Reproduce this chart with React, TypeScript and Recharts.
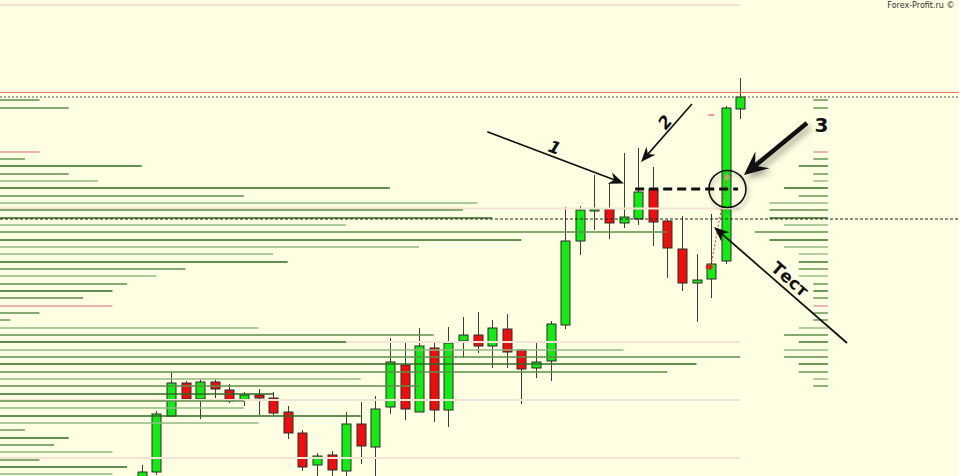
import React from "react";
import { ComposedChart, Bar, XAxis, YAxis, ReferenceLine, ReferenceDot } from "recharts";

const W = 959;
const H = 476;
const BG = "#fefee2";

// bar index axis and price axis limits
const X_MIN = -9.705;
const X_MAX = 55.98;
const P_MIN = 1.28;
const P_MAX = 1.3276;

const opens = [1.2799, 1.2804, 1.2860, 1.2893, 1.2877, 1.2894, 1.2886, 1.2876, 1.2881, 1.2878, 1.2864, 1.2843, 1.2811, 1.2821, 1.2805, 1.2852, 1.2829, 1.2869, 1.2911, 1.2864, 1.2928, 1.2866, 1.2935, 1.2941, 1.2930, 1.2947, 1.2926, 1.2908, 1.2915, 1.2951, 1.3035, 1.3065, 1.3067, 1.3053, 1.3057, 1.3087, 1.3055, 1.3027, 1.2993, 1.2997, 1.3015, 1.3167];
const highs = [1.2811, 1.2865, 1.2904, 1.2895, 1.2897, 1.2897, 1.2892, 1.2884, 1.2887, 1.2884, 1.2870, 1.2846, 1.2823, 1.2825, 1.2864, 1.2874, 1.2880, 1.2938, 1.2935, 1.2948, 1.2935, 1.2949, 1.2959, 1.2964, 1.2956, 1.2962, 1.2927, 1.2933, 1.2955, 1.3069, 1.3070, 1.3101, 1.3093, 1.3123, 1.3128, 1.3109, 1.3056, 1.3060, 1.3022, 1.3062, 1.3170, 1.3198];
const lows = [1.2796, 1.2801, 1.2859, 1.2876, 1.2857, 1.2878, 1.2873, 1.2870, 1.2861, 1.2861, 1.2837, 1.2805, 1.2798, 1.2798, 1.2796, 1.2812, 1.2796, 1.2862, 1.2856, 1.2864, 1.2854, 1.2849, 1.2918, 1.2923, 1.2908, 1.2908, 1.2872, 1.2898, 1.2895, 1.2947, 1.3021, 1.3046, 1.3037, 1.3048, 1.3051, 1.3030, 1.2998, 1.2985, 1.2954, 1.2978, 1.3012, 1.3157];
const closes = [1.2804, 1.2862, 1.2893, 1.2877, 1.2894, 1.2887, 1.2875, 1.2881, 1.2878, 1.2863, 1.2843, 1.2809, 1.2820, 1.2806, 1.2852, 1.2830, 1.2867, 1.2914, 1.2867, 1.2930, 1.2866, 1.2933, 1.2941, 1.2930, 1.2948, 1.2924, 1.2907, 1.2914, 1.2952, 1.3035, 1.3066, 1.3067, 1.3053, 1.3059, 1.3084, 1.3054, 1.3028, 1.2993, 1.2996, 1.3012, 1.3168, 1.3179];

// volume profile levels: left histogram reaches a bar index, right one counts bars back from bar 47
const levels = [1.3176, 1.3168, 1.3124, 1.3117, 1.3110, 1.3102, 1.3095, 1.3088, 1.3080, 1.3073, 1.3066, 1.3058, 1.3051, 1.3044, 1.3036, 1.3029, 1.3022, 1.3014, 1.3007, 1.3000, 1.2992, 1.2985, 1.2978, 1.2970, 1.2963, 1.2956, 1.2948, 1.2941, 1.2934, 1.2926, 1.2919, 1.2912, 1.2904, 1.2897, 1.2890, 1.2882, 1.2875, 1.2868, 1.2860, 1.2853, 1.2846, 1.2838, 1.2831, 1.2824, 1.2816, 1.2809, 1.2802];
const leftReach = [-7, -5, -7, -8, 0, -5, -3, 17, 7, 23, 22, 24, 14, 36, 26, 19, 9, 10, 3, 1, -1, -2, -4, -2, -7, -9, 8, 20, 14, 33, 41, 38, 36, 15, 19, 9, 7, 7, 15, 8, -8, -5, -6, -2, -7, -1, -2];
const rightBars = [1, 1, 1, 1, 2, 1, 1, 3, 2, 4, 4, 4, 3, 5, 4, 3, 2, 2, 2, 2, 1, 1, 1, 1, 1, 1, 2, 3, 2, 3, 3, 2, 2, 1, 1, 0, 0, 0, 0, 0, 0, 0, 0, 0, 0, 0, 0];
const tones = ["m", "m", "p", "m", "d", "m", "l", "d", "m", "l", "m", "d", "l", "m", "d", "l", "l", "d", "m", "l", "m", "d", "m", "p", "m", "m", "l", "m", "d", "l", "m", "d", "m", "l", "m", "d", "m", "l", "d", "l", "m", "d", "m", "l", "m", "d", "l"];
const TONE: Record<string, string> = { d: "#2f6a22", m: "#5e8f4c", l: "#92b883", p: "#e39a9a" };

const faintLevels = [1.3271, 1.30675, 1.2934, 1.2876, 1.2818];
const askLine = 1.31835;
const bidLine = 1.3179;
const midLine = 1.3057;
const breakLevel = 1.3087;

const candles = opens.map((o, i) => ({ i, open: o, high: highs[i], low: lows[i], close: closes[i] }));

function Candle(props: any) {
  const { x, y, width, height, payload } = props;
  if (!payload) return null;
  const { open, close, high, low } = payload;
  const top = height >= 0 ? y : y + height;
  const h = Math.abs(height);
  const k = high > low ? h / (high - low) : 0;
  const py = (v: number) => top + (high - v) * k;
  const cx = Math.round(x + width / 2) + 0.5;
  const bTop = py(Math.max(open, close));
  const bBot = py(Math.min(open, close));
  const up = close >= open;
  return (
    <g>
      <line x1={cx} x2={cx} y1={top} y2={top + h} stroke="#3d3d3d" strokeWidth={1} />
      <rect x={cx - 4.5} y={bTop} width={9} height={Math.max(bBot - bTop, 2)}
        fill={up ? "#16ea16" : "#ec0f0f"} stroke="#2b2b2b" strokeWidth={1} />
    </g>
  );
}

function headPath(x1: number, y1: number, x2: number, y2: number, len: number, half: number, notch: number) {
  const a = Math.atan2(y2 - y1, x2 - x1);
  const ux = Math.cos(a), uy = Math.sin(a);
  const bx = x2 - ux * len, by = y2 - uy * len;
  const nx = x2 - ux * len * (1 - notch), ny = y2 - uy * len * (1 - notch);
  return {
    d: `M${x2},${y2} L${bx - uy * half},${by + ux * half} L${nx},${ny} L${bx + uy * half},${by - ux * half} Z`,
    nx, ny,
  };
}

const arrowShape = (w: number, len: number, half: number, notch: number, shadow?: boolean) => (p: any) => {
  const { x1, y1, x2, y2 } = p;
  const hd = headPath(x1, y1, x2, y2, len, half, notch);
  return (
    <g style={shadow ? { filter: "drop-shadow(3px 4px 3px rgba(0,0,0,0.35))" } : undefined}>
      <line x1={x1} y1={y1} x2={hd.nx} y2={hd.ny} stroke="#111" strokeWidth={w} />
      <path d={hd.d} fill="#111" />
    </g>
  );
};

const textShape = (text: string, size: number, angle: number, extra: any = {}) => (p: any) => (
  <text x={p.cx} y={p.cy} fontSize={size} fontFamily="DejaVu Sans, sans-serif" fontWeight="bold"
    textAnchor="middle" dominantBaseline="central" fill="#111"
    transform={`rotate(${angle} ${p.cx} ${p.cy})`} {...extra}>
    {text}
  </text>
);

export default function App() {
  return (
    <div style={{ position: "absolute", left: 0, top: 0, width: W, height: H, background: BG, overflow: "hidden" }}>
      <ComposedChart width={W} height={H} data={candles} margin={{ top: 0, right: 0, bottom: 0, left: 0 }}>
        <XAxis type="number" dataKey="i" domain={[X_MIN, X_MAX]} hide height={0} allowDataOverflow />
        <YAxis type="number" domain={[P_MIN, P_MAX]} hide width={0} allowDataOverflow />

        {faintLevels.map((p, k) => (
          <ReferenceLine key={"f" + k} segment={[{ x: X_MIN, y: p }, { x: 41, y: p }]}
            stroke="#f1e4d6" strokeWidth={2} ifOverflow="visible" />
        ))}

        {levels.map((p, k) => (
          <ReferenceLine key={"l" + k} segment={[{ x: X_MIN, y: p }, { x: leftReach[k], y: p }]}
            stroke={TONE[tones[k]]} strokeWidth={1.4} ifOverflow="visible" />
        ))}
        {levels.map((p, k) => rightBars[k] > 0 ? (
          <ReferenceLine key={"r" + k} segment={[{ x: 47 - rightBars[k], y: p }, { x: 47, y: p }]}
            stroke={TONE[tones[k]]} strokeWidth={1.4} ifOverflow="visible" />
        ) : null)}

        <ReferenceLine y={askLine} stroke="#e0805e" strokeWidth={1} ifOverflow="visible" />
        <ReferenceLine y={bidLine} stroke="#555" strokeWidth={1} strokeDasharray="2 2" ifOverflow="visible" />
        <ReferenceLine y={midLine} stroke="#222" strokeWidth={1} strokeDasharray="3 2" ifOverflow="visible" />
        <ReferenceLine segment={[{ x: 38.8, y: 1.3161 }, { x: 39.2, y: 1.3161 }]} stroke="#e03a3a" strokeWidth={1} ifOverflow="visible" />

        <Bar dataKey={(d: any) => [d.low, d.high]} barSize={9} shape={Candle} isAnimationActive={false} />

        {/* trace of the test entry */}
        <ReferenceLine segment={[{ x: 38.99, y: 1.3010 }, { x: 40.09, y: 1.3098 }]}
          stroke="#e04848" strokeWidth={1.2} strokeDasharray="2 2" ifOverflow="visible" />
        <ReferenceDot x={38.85} y={1.3009} r={3} ifOverflow="visible"
          shape={(p: any) => <path d={`M${p.cx - 3},${p.cy - 2} L${p.cx + 1},${p.cy - 2} L${p.cx + 1},${p.cy - 4} L${p.cx + 4},${p.cy} L${p.cx + 1},${p.cy + 4} L${p.cx + 1},${p.cy + 2} L${p.cx - 3},${p.cy + 2} Z`} fill="#e51d1d" />} />
        <ReferenceDot x={40.09} y={1.3099} r={3} ifOverflow="visible"
          shape={(p: any) => <path d={`M${p.cx},${p.cy - 4} L${p.cx + 3},${p.cy} L${p.cx},${p.cy + 4} L${p.cx - 3},${p.cy} Z`} fill="#d2a070" />} />

        {/* breakout level and circle */}
        <ReferenceLine segment={[{ x: 33.8, y: breakLevel }, { x: 40.85, y: breakLevel }]}
          stroke="#111" strokeWidth={3} strokeDasharray="9 5" ifOverflow="visible" />
        <ReferenceDot x={40.12} y={breakLevel} r={18.5} fill="none" stroke="#111" strokeWidth={1.6}
          ifOverflow="visible" style={{ filter: "drop-shadow(2px 3px 2px rgba(0,0,0,0.3))" }} />

        {/* arrows */}
        <ReferenceLine segment={[{ x: 23.67, y: 1.31443 }, { x: 33.03, y: 1.30925 }]}
          ifOverflow="visible" shape={arrowShape(1.7, 15, 6, 0.3)} />
        <ReferenceLine segment={[{ x: 37.69, y: 1.3172 }, { x: 34.2, y: 1.3114 }]}
          ifOverflow="visible" shape={arrowShape(1.6, 15, 6, 0.3)} />
        <ReferenceLine segment={[{ x: 45.57, y: 1.3153 }, { x: 41.25, y: 1.3101 }]}
          ifOverflow="visible" shape={arrowShape(4.5, 24, 11, 0.4, true)} />
        <ReferenceLine segment={[{ x: 48.31, y: 1.2933 }, { x: 39.2, y: 1.3049 }]}
          ifOverflow="visible" shape={arrowShape(1.8, 15, 6, 0.3)} />

        {/* labels */}
        <ReferenceDot x={28.29} y={1.31285} r={1} ifOverflow="visible" shape={textShape("1", 17, 20, { fontStyle: "italic" })} />
        <ReferenceDot x={35.84} y={1.3154} r={1} ifOverflow="visible" shape={textShape("2", 17, -50, { fontStyle: "italic" })} />
        <ReferenceDot x={46.56} y={1.3151} r={1} ifOverflow="visible" shape={textShape("3", 20, 0)} />
        <ReferenceDot x={44.4} y={1.2997} r={1} ifOverflow="visible" shape={textShape("Тест", 17, 41)} />
        <ReferenceDot x={53.37} y={1.32685} r={1} ifOverflow="visible"
          shape={(p: any) => (
            <text x={p.cx} y={p.cy} fontSize={8} fontFamily="DejaVu Sans, sans-serif" textAnchor="middle" fill="#333">
              Forex-Profit.ru ©
            </text>
          )} />
      </ComposedChart>
    </div>
  );
}
